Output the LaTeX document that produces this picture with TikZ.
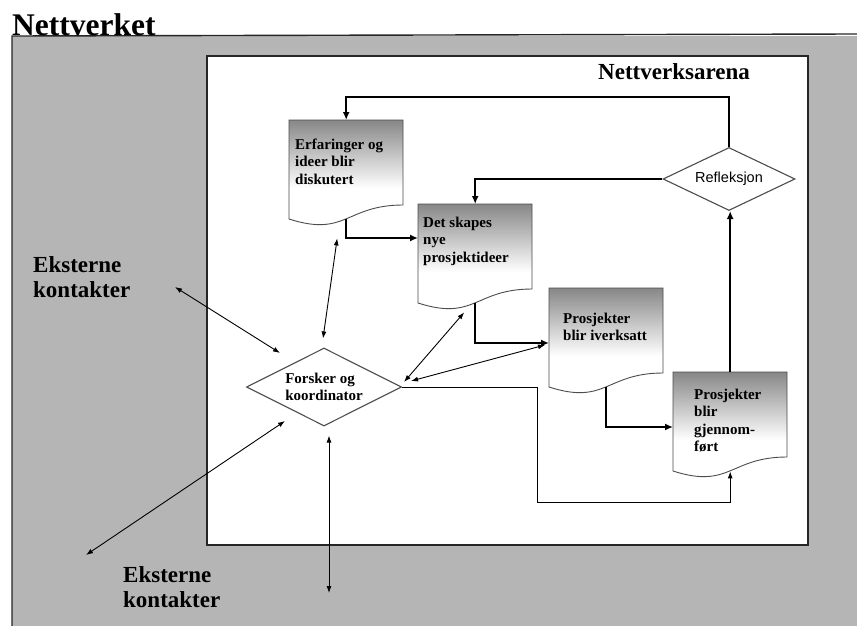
\documentclass[tikz,border=0pt]{standalone}
\usepackage{fontspec}
\setmainfont{Liberation Serif}
\newfontfamily\arialfont{Liberation Sans}
\usetikzlibrary{shapes.geometric,arrows.meta,calc}

% vertical fade used inside the document-shaped boxes; the path's box spans 25bp..75bp
\pgfdeclareverticalshading{docshade}{100bp}{color(0bp)=(white); color(25bp)=(white); color(46bp)=(white); color(75bp)=(black!47); color(100bp)=(black!47)}
\definecolor{paper}{gray}{0.71}
\definecolor{edge}{gray}{0.3}

\tikzset{
  x=1pt, y=-1pt,
  flow/.style={line width=2.2pt, -{Latex[length=8pt,width=7pt]}},
  thinflow/.style={line width=0.9pt, -{Latex[length=7pt,width=5pt]}},
  link/.style={line width=0.9pt, {Latex[length=7pt,width=5pt]}-{Latex[length=7pt,width=5pt]}},
  docframe/.style={anchor=north west, minimum width=114pt, minimum height=99pt, inner sep=0pt},
  doclabel/.style={anchor=base west, inner sep=0pt, font=\bfseries\fontsize{15}{17.6}\selectfont},
  decision/.style={diamond, draw=edge, line width=1.1pt, fill=white, inner sep=0pt},
  heading/.style={inner sep=0pt, anchor=base west, font=\bfseries\fontsize{23}{25}\selectfont},
}

% #1 name, #2/#3 top-left corner, #4/#5 offset of the first baseline, #6 text
\newcommand\docbox[6]{%
  \pgfmathsetmacro\dbE{#2+114}\pgfmathsetmacro\dbM{#2+57}%
  \pgfmathsetmacro\dbR{#3+85}\pgfmathsetmacro\dbC{#3+117.4}\pgfmathsetmacro\dbL{#3+99}%
  \shadedraw[shading=docshade, draw=edge, line width=0.9pt]
    (#2,#3) -- (\dbE,#3) -- (\dbE,\dbR)
    .. controls (\dbM,\dbR) and (\dbM,\dbC) .. (#2,\dbL) -- cycle;
  \node[docframe] (#1) at (#2,#3) {};
  \pgfmathsetmacro\dbX{#2+#4}\pgfmathsetmacro\dbY{#3+#5}%
  \node[doclabel] (#1-text) at (\dbX,\dbY) {\parbox[t]{108pt}{\raggedright #6}};
}

\begin{document}
\begin{tikzpicture}
\useasboundingbox (0,0) rectangle (857,626);

% outer network area and inner arena
\fill[paper] (12,36) rectangle (857,626);
\draw[line width=1.4pt, black!85] (12,626) -- (12,36) -- (857,34);
\draw[fill=white, draw=black!85, line width=1.1pt] (207,56) rectangle (808,545);

\node[heading, font=\bfseries\fontsize{31.5}{34}\selectfont] (title) at (12,36) {Nettverket};
\node[heading] (arena) at (598,80) {Nettverksarena};
\node[heading] (ext-a) at (33,272) {\parbox[t]{130pt}{\fontsize{23}{25}\selectfont Eksterne\\kontakter}};
\node[heading] (ext-b) at (123,582) {\parbox[t]{130pt}{\fontsize{23}{25}\selectfont Eksterne\\kontakter}};

% process steps
\docbox{erf}{289}{120}{6}{29}{Erfaringer og\\ideer blir\\diskutert}
\docbox{skap}{418}{204}{5}{23}{Det skapes\\nye\\prosjektideer}
\docbox{iver}{549}{288}{14}{35}{Prosjekter\\blir iverksatt}
\docbox{gjen}{673}{372}{21}{27}{Prosjekter\\blir\\gjennom-\\f\o rt}

\node[decision, aspect=2.1, minimum width=132pt, minimum height=63pt,
      font=\arialfont\fontsize{14.5}{17}\selectfont] (refl) at (729,179) {Refleksjon};
\node[decision, aspect=2, minimum width=155pt, minimum height=78pt, align=left,
      font=\bfseries\fontsize{15}{16.5}\selectfont] (fors) at (324,387) {Forsker og\\koordinator};

% main cycle
\draw[flow] (refl.north) -- ++(0,-50) -| (erf.north);
\draw[flow] (refl.west) -| (skap.north);
\draw[flow] (gjen.north) -- (gjen.north |- refl.south);
\draw[flow] (erf.south) |- ([yshift=-34pt]skap.north west);
\draw[flow] (skap.south) |- ([yshift=-55pt]iver.north west);
\draw[flow] (iver.south) |- ([yshift=-55pt]gjen.north west);

% coordinator links
\draw[thinflow] (fors.east) -- ++(135,0) -- ++(0,115) -| (gjen.south);
\draw[link] ([xshift=-1pt,yshift=9pt]fors.north) -- ([xshift=-9pt,yshift=-19pt]erf.south);
\draw[link] ([xshift=2pt,yshift=5pt]fors.east) -- ([xshift=-11pt,yshift=-9pt]skap.south);
\draw[link] ([xshift=9pt,yshift=6pt]fors.east) -- ([xshift=-4pt,yshift=-57pt]iver.north west);

% external contacts
\coordinate (ext-nw) at (175,287);
\coordinate (ext-sw) at (86,555);
\coordinate (ext-s) at (329,593);
\draw[link] (ext-nw) -- ([xshift=-44pt,yshift=34pt]fors.center);
\draw[link] (ext-sw) -- ([xshift=-39pt,yshift=-34pt]fors.center);
\draw[link] (ext-s) -- ([xshift=5pt,yshift=-9pt]fors.south);
\end{tikzpicture}
\end{document}
